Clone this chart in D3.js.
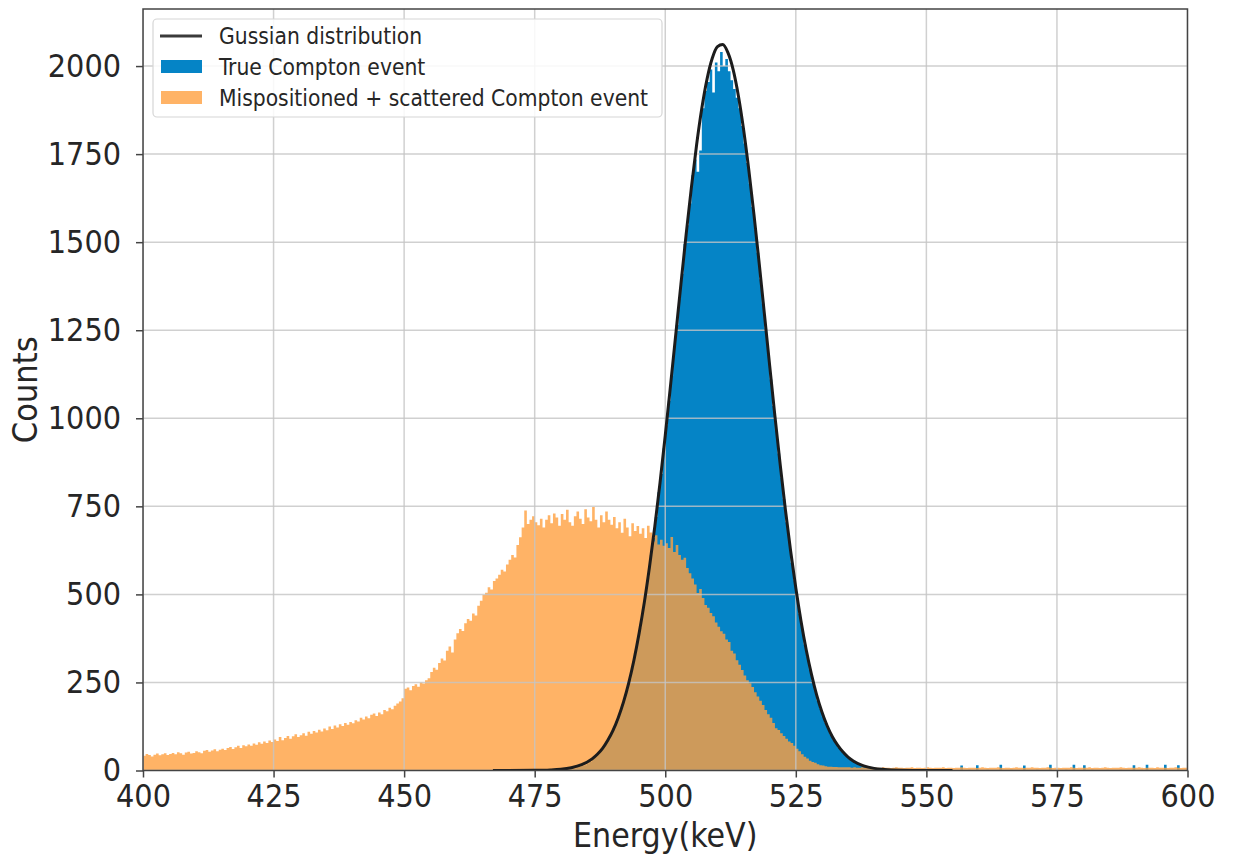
<!DOCTYPE html>
<html>
<head>
<meta charset="utf-8">
<script src="https://cdn.jsdelivr.net/npm/d3@7"></script>
<style>
  body { margin: 0; background: #fff; }
  text { font-family: "DejaVu Sans Condensed", "Noto Sans", sans-serif; fill: #262626; }
</style>
</head>
<body>
<div id="chart"></div>
<script>
// histogram bins are 0.5 keV wide, values are counts per bin
var binWidth = 0.5;

// Mispositioned + scattered Compton event, bins from 400 keV
var orangeStart = 400;
var orangeCounts = [
  42,47,44,40,45,48,43,46,49,44,
  47,50,46,52,49,45,51,53,48,50,
  55,52,49,56,58,53,57,60,55,59,
  62,58,64,67,61,66,70,64,72,69,
  74,70,77,73,80,76,82,78,85,81,
  88,84,95,86,92,98,90,97,103,95,
  100,106,99,110,104,112,108,116,111,119,
  114,125,118,128,122,131,126,135,130,138,
  134,143,139,150,145,153,148,158,162,155,
  165,160,172,168,178,174,184,190,196,205,
  232,236,228,240,245,238,250,247,256,262,
  280,292,286,305,318,312,340,352,335,372,
  390,402,396,418,430,425,446,440,468,482,
  498,505,520,514,538,545,556,570,565,585,
  598,612,605,640,662,690,738,700,712,722,
  705,696,715,690,712,725,702,730,718,695,
  728,712,740,705,695,722,735,715,700,742,
  718,708,748,712,690,725,705,735,712,698,
  720,688,705,675,715,690,665,702,680,694,
  672,688,660,695,676,650,668,642,655,638,
  645,632,663,620,640,612,598,604,575,560,
  545,528,504,515,490,470,462,447,438,420,
  408,395,388,372,365,340,332,313,300,285,
  270,256,248,237,222,210,198,186,172,160,
  150,135,120,115,106,98,90,82,78,70,
  62,55,46,39,34,28,24,22,18,15,
  14,12,11,11,10,10,9,9,9,9,
  9,8,9,8,8,9,8,8,7,8,
  8,8,7,9,8,8,7,8,9,8,
  8,7,8,8,9,7,8,8,7,8,
  9,8,7,8,8,8,9,7,8,8,
  7,8,8,9,8,7,8,8,8,7,
  8,9,8,7,8,8,8,9,8,7,
  8,8,7,8,9,8,8,7,8,8,
  9,8,8,7,8,8,9,8,7,8,
  8,7,8,8,8,9,8,7,8,8,
  8,8,9,7,8,8,7,8,9,8,
  7,8,8,8,9,8,7,8,8,8,
  8,9,8,7,8,8,8,7,9,8,
  8,8,7,8,8,9,8,7,8,8
];

// True Compton event, bins from 466 keV
var blueStart = 466;
var blueCounts = [
  0,0,1,0,0,0,1,0,0,0,
  1,0,0,1,0,0,1,0,1,0,
  1,1,0,2,1,1,2,3,2,4,
  5,4,7,6,9,11,13,15,20,24,
  35,44,48,60,66,80,90,104,120,138,
  158,185,204,230,260,292,335,365,405,458,
  500,548,612,660,720,790,842,915,980,1050,
  1120,1205,1265,1340,1410,1495,1548,1610,1690,1735,
  1700,1760,1880,1930,1955,1990,1925,2010,1985,2040,
  2000,2020,1985,1960,1935,1910,1880,1830,1780,1725,
  1665,1600,1535,1470,1395,1325,1255,1180,1110,1035,
  965,900,832,770,705,648,590,540,490,445,
  400,358,322,286,255,226,198,175,152,135,
  118,102,88,76,65,56,48,41,35,29,
  25,21,17,15,12,10,8,7,6,5,
  4,3,3,2,2,2,1,1,1,1,
  1,0,1,0,1,0,0,1,0,0,
  0,1,0,0,0,1,0,0,0,0,
  0,14,1,0,2,0,1,15,
  0,1,0,2,0,1,0,1,16,1,
  0,1,2,0,1,0,1,14,0,1,
  1,0,2,0,1,0,1,16,0,1,
  0,1,0,2,1,0,16,1,0,1,
  15,1,0,2,0,1,0,1,0,2,
  0,1,0,1,2,0,1,0,1,15,
  1,0,2,0,16,1,0,1,0,1,
  0,16,1,0,1,0,15,1,0,0
];

// Gaussian curve
var gaussEnergy = [467,470,475,478,480,482,484,
  486,487,488,489,490,491,492,493,494,495,
  496,497,498,499,500,501,502,503,504,505,
  506,507,508,509,510,511,512,513,514,515,
  516,517,518,519,520,521,522,523,524,525,
  526,527,528,529,530,531,532,533,534,535,
  536,538,540,542,545,550,555];
var gaussCounts = [0,0,0.4,1.5,3.5,7.9,16.6,
  33,46,63,86,114,150,194,248,313,390,
  478,580,693,817,951,1092,1236,1381,1522,1655,
  1776,1880,1963,2022,2055,2061,2038,1990,1916,1820,
  1705,1577,1438,1294,1149,1006,870,741,624,518,
  424,342,273,214,166,127,96,72,53,38,
  27,13,6,3,1,0,0];

var xTicks = [400,425,450,475,500,525,550,575,600];
var yTicks = [0,250,500,750,1000,1250,1500,1750,2000];

var legendLabels = ["Gussian distribution", "True Compton event", "Mispositioned + scattered Compton event"];

var blueColor = "#0584c6";
var orangeColor = "#ffa040";
var orangeOpacity = 0.8;

drawChart();

function toBins(start, counts) {
  var pts = counts.map((v, i) => ({ e: start + i * binWidth, v: v }));
  // closing point so the last step gets its width
  pts.push({ e: start + counts.length * binWidth, v: counts[counts.length - 1] });
  return pts;
}

function drawChart() {
  var w = 1233;
  var h = 861;
  var margin = { top: 9, right: 45.5, bottom: 90.5, left: 143 };
  var innerWidth = w - margin.left - margin.right;
  var innerHeight = h - margin.top - margin.bottom;

  var svg = d3.select("#chart")
    .append("svg")
    .attr("width", w)
    .attr("height", h);

  var xScale = d3.scaleLinear().domain([400, 600]).range([0, innerWidth]);
  var yScale = d3.scaleLinear().domain([0, 2162]).range([innerHeight, 0]);

  svg.append("defs").append("clipPath")
    .attr("id", "plot-clip")
    .append("rect")
    .attr("width", innerWidth)
    .attr("height", innerHeight);

  var g = svg.append("g")
    .attr("transform", "translate(" + margin.left + "," + margin.top + ")");

  var plot = g.append("g").attr("clip-path", "url(#plot-clip)");

  var area = d3.area()
    .x(d => xScale(d.e))
    .y0(yScale(0))
    .y1(d => yScale(d.v))
    .curve(d3.curveStepAfter);

  // blue histogram first, orange one on top with transparency
  plot.append("path")
    .datum(toBins(blueStart, blueCounts))
    .attr("d", area)
    .attr("fill", blueColor);

  plot.append("path")
    .datum(toBins(orangeStart, orangeCounts))
    .attr("d", area)
    .attr("fill", orangeColor)
    .attr("fill-opacity", orangeOpacity);

  // grid
  plot.selectAll(".vgrid")
    .data(xTicks)
    .enter()
    .append("line")
    .attr("x1", d => xScale(d))
    .attr("x2", d => xScale(d))
    .attr("y1", 0)
    .attr("y2", innerHeight)
    .attr("stroke", "#c4c4c4")
    .attr("stroke-opacity", 0.8)
    .attr("stroke-width", 1.5);

  plot.selectAll(".hgrid")
    .data(yTicks)
    .enter()
    .append("line")
    .attr("x1", 0)
    .attr("x2", innerWidth)
    .attr("y1", d => yScale(d))
    .attr("y2", d => yScale(d))
    .attr("stroke", "#c4c4c4")
    .attr("stroke-opacity", 0.8)
    .attr("stroke-width", 1.5);

  // gaussian fit line
  var line = d3.line()
    .x((d, i) => xScale(gaussEnergy[i]))
    .y(d => yScale(d))
    .curve(d3.curveMonotoneX);

  plot.append("path")
    .datum(gaussCounts)
    .attr("d", line)
    .attr("fill", "none")
    .attr("stroke", "#1c1c1c")
    .attr("stroke-width", 3);

  // axes
  var xAxis = d3.axisBottom(xScale)
    .tickValues(xTicks)
    .tickSize(7)
    .tickPadding(7)
    .tickSizeOuter(0);

  var yAxis = d3.axisLeft(yScale)
    .tickValues(yTicks)
    .tickFormat(d3.format("d"))
    .tickSize(7)
    .tickPadding(15)
    .tickSizeOuter(0);

  var gx = g.append("g")
    .attr("transform", "translate(0," + innerHeight + ")")
    .call(xAxis);

  var gy = g.append("g")
    .call(yAxis);

  [gx, gy].forEach(a => {
    a.select(".domain").remove();
    a.selectAll(".tick line").attr("stroke", "#444").attr("stroke-width", 1.5);
    a.selectAll(".tick text")
      .attr("font-size", "32px")
      .attr("fill", "#262626");
    a.attr("font-family", null).attr("font-size", null);
  });

  // frame
  g.append("rect")
    .attr("width", innerWidth)
    .attr("height", innerHeight)
    .attr("fill", "none")
    .attr("stroke", "#444")
    .attr("stroke-width", 1.5);

  // axis labels
  svg.append("text")
    .attr("x", margin.left + innerWidth / 2)
    .attr("y", 847)
    .attr("text-anchor", "middle")
    .attr("font-size", "33.5px")
    .text("Energy(keV)");

  svg.append("text")
    .attr("transform", "translate(37," + (margin.top + innerHeight / 2) + ") rotate(-90)")
    .attr("text-anchor", "middle")
    .attr("font-size", "34px")
    .text("Counts");

  // legend
  var legend = svg.append("g");

  legend.append("rect")
    .attr("x", 153)
    .attr("y", 19)
    .attr("width", 509)
    .attr("height", 98)
    .attr("rx", 4)
    .attr("fill", "#fff")
    .attr("fill-opacity", 0.85)
    .attr("stroke", "#d6d6d6")
    .attr("stroke-width", 1.2);

  var items = legend.selectAll(".legend")
    .data(legendLabels)
    .enter()
    .append("g")
    .attr("class", "legend")
    .attr("transform", (d, i) => "translate(0," + (36 + i * 31) + ")");

  items.filter((d, i) => i === 0)
    .append("line")
    .attr("x1", 160)
    .attr("x2", 202)
    .attr("stroke", "#3a3a3a")
    .attr("stroke-width", 3);

  items.filter((d, i) => i > 0)
    .append("rect")
    .attr("x", 161)
    .attr("y", -7)
    .attr("width", 41)
    .attr("height", 13)
    .attr("fill", (d, i) => i === 0 ? blueColor : orangeColor)
    .attr("fill-opacity", (d, i) => i === 0 ? 1 : orangeOpacity);

  items.append("text")
    .attr("x", 219)
    .attr("dy", "0.35em")
    .attr("font-size", "22.6px")
    .attr("fill", "#333")
    .text(d => d);
}
</script>
</body>
</html>
